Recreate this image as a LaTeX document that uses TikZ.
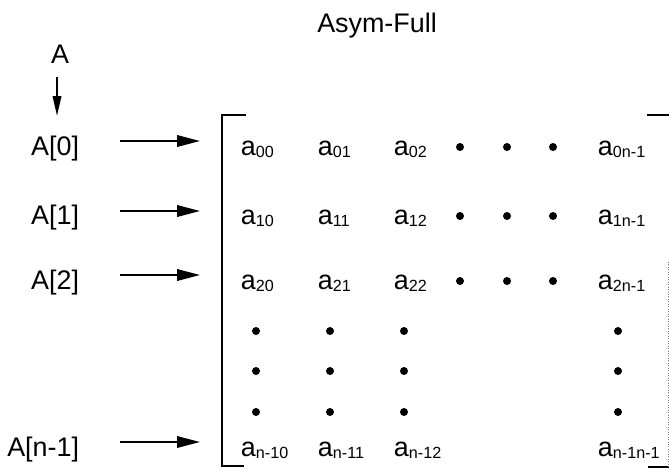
\documentclass[tikz,border=0pt]{standalone}
\usepackage{fontspec}
\setmainfont{Liberation Sans}
\usetikzlibrary{arrows.meta}

% matrix element a with its index set small and a bit low
\newcommand{\elem}[1]{a\raisebox{-0.05cm}{\fontsize{9.2}{10}\selectfont #1}}

\begin{document}
\begin{tikzpicture}[x=0.02cm, y=-0.02cm, line width=1.1pt,
    txt/.style = {inner sep=0pt, font=\fontsize{15.3}{18}\selectfont},
    ptr/.style = {-{Triangle[length=0.46cm, width=0.23cm]}},
    ptrdown/.style = {-{Triangle[length=0.4cm, width=0.17cm]}}]
\useasboundingbox (0,0) rectangle (669,471);

\node[txt, anchor=base] (title) at (377,32) {Asym-Full};

% row pointers
\node[txt, anchor=base] (arr) at (60,63) {A};
\node[txt, anchor=base east] (l_0) at (80,155) {A[0]};
\node[txt, anchor=base east] (l_1) at (80,224) {A[1]};
\node[txt, anchor=base east] (l_2) at (80,289) {A[2]};
\node[txt, anchor=base east] (l_n) at (80,456) {A[n-1]};

\coordinate (d_s) at (57,77);
\coordinate (d_t) at (57,116);
\draw[ptrdown] (d_s) -- (d_t);

\coordinate (s_0) at (120,141); \coordinate (t_0) at (200,141);
\coordinate (s_1) at (120,211); \coordinate (t_1) at (200,211);
\coordinate (s_2) at (120,275); \coordinate (t_2) at (200,275);
\coordinate (s_n) at (120,442); \coordinate (t_n) at (200,442);
\draw[ptr] (s_0) -- (t_0);
\draw[ptr] (s_1) -- (t_1);
\draw[ptr] (s_2) -- (t_2);
\draw[ptr] (s_n) -- (t_n);

% brackets
\draw (246,115) -- (222,115) -- (222,466) -- (244,466);
\draw (647,115) -- (669,115);
\draw (648,467) -- (669,467);
\draw[gray, thin, densely dotted] (668,262) -- (668,467);

% elements
\node[txt, anchor=base west] (e_00) at (240,155) {\elem{00}};
\node[txt, anchor=base west] (e_01) at (317,155) {\elem{01}};
\node[txt, anchor=base west] (e_02) at (393,155) {\elem{02}};
\node[txt, anchor=base west] (e_0n) at (597,155) {\elem{0n-1}};

\node[txt, anchor=base west] (e_10) at (240,224) {\elem{10}};
\node[txt, anchor=base west] (e_11) at (317,224) {\elem{11}};
\node[txt, anchor=base west] (e_12) at (393,224) {\elem{12}};
\node[txt, anchor=base west] (e_1n) at (597,224) {\elem{1n-1}};

\node[txt, anchor=base west] (e_20) at (240,289) {\elem{20}};
\node[txt, anchor=base west] (e_21) at (317,289) {\elem{21}};
\node[txt, anchor=base west] (e_22) at (393,289) {\elem{22}};
\node[txt, anchor=base west] (e_2n) at (597,289) {\elem{2n-1}};

\node[txt, anchor=base west] (e_n0) at (240,456) {\elem{n-10}};
\node[txt, anchor=base west] (e_n1) at (317,456) {\elem{n-11}};
\node[txt, anchor=base west] (e_n2) at (393,456) {\elem{n-12}};
\node[txt, anchor=base west] (e_nn) at (597,456) {\elem{n-1n-1}};

% dots along the rows
\fill (460,147) circle (0.08cm) (507,147) circle (0.08cm) (553,147) circle (0.08cm);
\fill (460,216) circle (0.08cm) (507,216) circle (0.08cm) (553,216) circle (0.08cm);
\fill (460,281) circle (0.08cm) (507,281) circle (0.08cm) (553,281) circle (0.08cm);

% dots down the columns
\fill (256,331) circle (0.08cm) (256,371) circle (0.08cm) (256,412) circle (0.08cm);
\fill (330,331) circle (0.08cm) (330,371) circle (0.08cm) (330,412) circle (0.08cm);
\fill (404,331) circle (0.08cm) (404,371) circle (0.08cm) (404,412) circle (0.08cm);
\fill (618,331) circle (0.08cm) (618,371) circle (0.08cm) (618,412) circle (0.08cm);
\end{tikzpicture}
\end{document}
